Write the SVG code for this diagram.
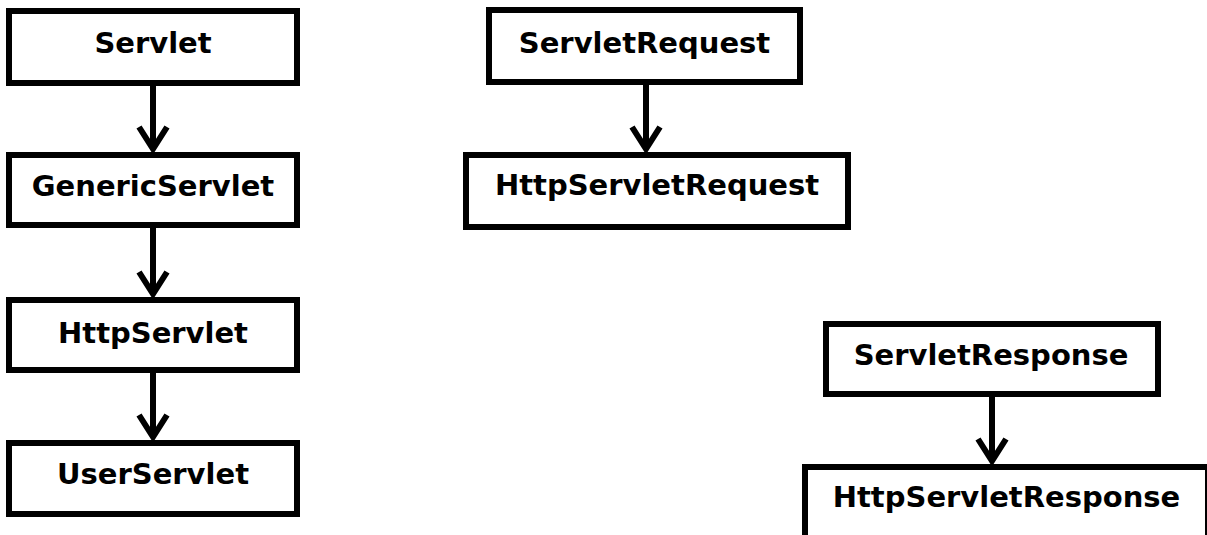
<svg xmlns="http://www.w3.org/2000/svg" width="1207" height="535" viewBox="0 0 1207 535">
  <style>
    .box { fill: #ffffff; stroke: #000000; stroke-width: 6; }
    .label { font-family: "DejaVu Sans", Verdana, sans-serif; font-weight: bold; font-size: 29px; fill: #000000; text-anchor: middle; }
    .edge { fill: none; stroke: #000000; stroke-width: 6; }
    .head { fill: none; stroke: #000000; stroke-width: 6; stroke-linejoin: miter; stroke-linecap: butt; }
  </style>
  <rect width="1207" height="535" fill="#ffffff"/>

  <!-- inheritance arrows -->
  <g id="connectors">
    <line class="edge" x1="153" y1="86" x2="153" y2="148"/>
    <polyline class="head" points="139,127 153,149 167,127"/>
    <line class="edge" x1="153" y1="228" x2="153" y2="293"/>
    <polyline class="head" points="139,272 153,294 167,272"/>
    <line class="edge" x1="153" y1="373" x2="153" y2="436"/>
    <polyline class="head" points="139,415 153,437 167,415"/>
    <line class="edge" x1="646" y1="85" x2="646" y2="148"/>
    <polyline class="head" points="632,127 646,149 660,127"/>
    <line class="edge" x1="992" y1="397" x2="992" y2="460"/>
    <polyline class="head" points="978,439 992,461 1006,439"/>
  </g>

  <g id="servlet">
    <rect class="box" x="9" y="11" width="288" height="72"/>
    <text class="label" x="153" y="53">Servlet</text>
  </g>
  <g id="generic-servlet">
    <rect class="box" x="9" y="155" width="288" height="70"/>
    <text class="label" x="153" y="196">GenericServlet</text>
  </g>
  <g id="http-servlet">
    <rect class="box" x="9" y="300" width="288" height="70"/>
    <text class="label" x="153" y="343">HttpServlet</text>
  </g>
  <g id="user-servlet">
    <rect class="box" x="9" y="443" width="288" height="71"/>
    <text class="label" x="153" y="484">UserServlet</text>
  </g>

  <g id="servlet-request">
    <rect class="box" x="489" y="10" width="311" height="72"/>
    <text class="label" x="644.5" y="53">ServletRequest</text>
  </g>
  <g id="http-servlet-request">
    <rect class="box" x="466" y="155" width="382" height="72"/>
    <text class="label" x="657" y="195">HttpServletRequest</text>
  </g>

  <g id="servlet-response">
    <rect class="box" x="826" y="324" width="332" height="70"/>
    <text class="label" x="991" y="365">ServletResponse</text>
  </g>
  <g id="http-servlet-response">
    <rect class="box" x="805" y="467" width="403" height="72"/>
    <text class="label" x="1006.5" y="507">HttpServletResponse</text>
  </g>
</svg>
